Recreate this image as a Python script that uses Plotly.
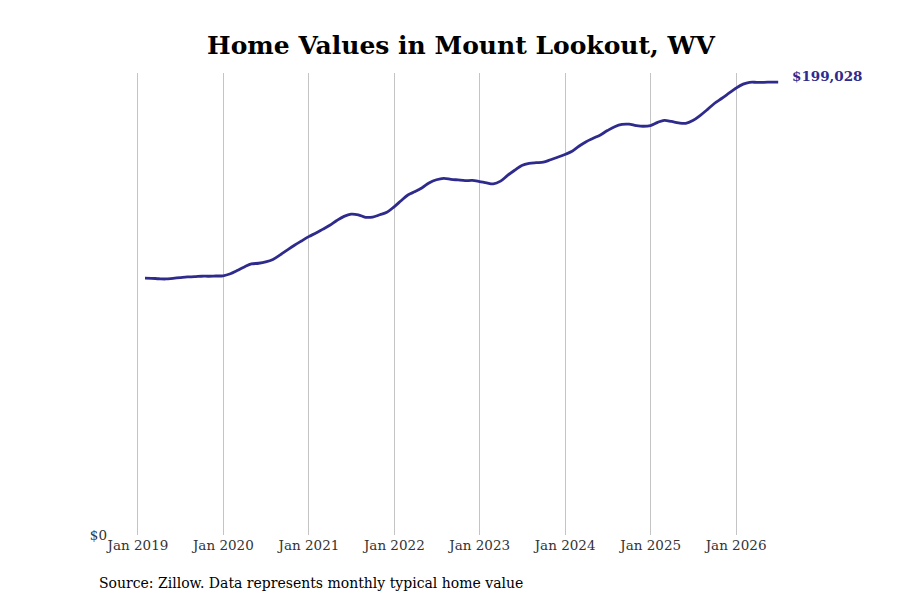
import pandas as pd
import plotly.graph_objects as go

# monthly typical home value, Jan 2019 - Jun 2026 (month-end dates)
dates = pd.date_range("2019-01-31", periods=90, freq="ME")
values = [
    112900, 112800, 112600, 112500, 112800, 113100, 113400, 113500, 113700, 113700, 113800, 113900,
    114800, 116200, 117800, 119100, 119400, 120000, 121100, 123100, 125200, 127300, 129200, 131100,
    132700, 134300, 136100, 138200, 140000, 141000, 140700, 139600, 139700, 140700, 141800, 144200,
    147000, 149400, 150900, 152600, 154800, 156100, 156700, 156300, 156000, 155700, 155800, 155300,
    154700, 154300, 155500, 158000, 160300, 162400, 163300, 163600, 163800, 164900, 166000, 167200,
    168600, 170800, 172800, 174300, 175800, 177700, 179400, 180400, 180500, 179900, 179600, 179900,
    181300, 182200, 181700, 181100, 180900, 182100, 184300, 186900, 189600, 191800, 194000, 196300,
    198100, 198900, 198900, 198900, 199000, 199028,
]
tick_dates = pd.date_range("2019-01-01", periods=8, freq="YS")
tick_text = [d.strftime("Jan %Y") for d in tick_dates]

line_color = "#2e2b8c"
serif = "DejaVu Serif"

fig = go.Figure()
fig.add_trace(go.Scatter(x=dates, y=values, mode="lines",
                         line=dict(color=line_color, width=2.8, shape="spline"),
                         hoverinfo="skip", showlegend=False))

fig.add_annotation(x=dates[-1], y=values[-1], text="<b>$%s</b>" % format(values[-1], ","),
                   showarrow=False, xanchor="left", yanchor="middle", xshift=12, yshift=6,
                   font=dict(family=serif, size=13.5, color=line_color))

fig.add_annotation(x=0, y=-0.104, xref="paper", yref="paper",
                   text="Source: Zillow. Data represents monthly typical home value",
                   showarrow=False, xanchor="left", yanchor="middle", xshift=-15,
                   font=dict(family=serif, size=14, color="black"))

fig.update_layout(
    width=900, height=600,
    paper_bgcolor="white", plot_bgcolor="white",
    margin=dict(l=104, r=98, t=65, b=73),
    title=dict(text="<b>Home Values in Mount Lookout, WV</b>", x=0.5, xref="paper",
               y=0.938, yanchor="middle",
               font=dict(family=serif, size=25, color="black")),
    xaxis=dict(range=["2018-09-12", "2026-11-13"], tickvals=tick_dates, ticktext=tick_text,
               showgrid=True, gridcolor="#c4c4c4", gridwidth=1, zeroline=False,
               showline=False, ticks="",
               tickfont=dict(family=serif, size=13.5, color="#333333")),
    yaxis=dict(range=[0, 203000], tickvals=[0], ticktext=["$0"], showgrid=False,
               zeroline=False, showline=False, ticklabelstandoff=4,
               tickfont=dict(family=serif, size=13.5, color="#333333")),
)

fig.write_html("out.html")
